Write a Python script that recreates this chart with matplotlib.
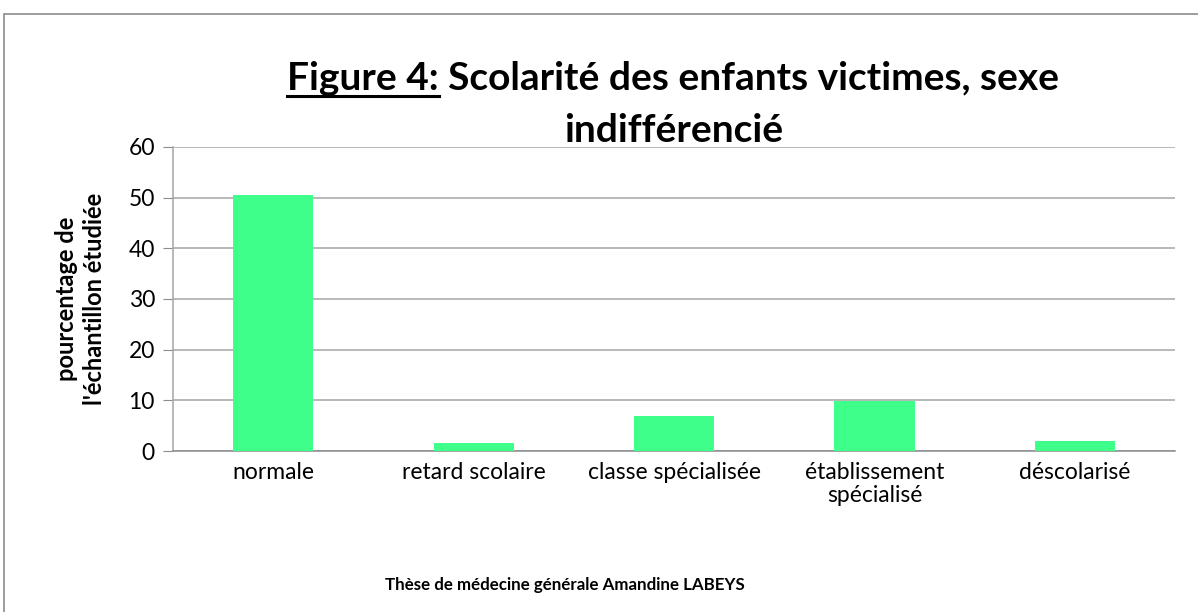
import matplotlib
matplotlib.use("Agg")
import matplotlib.pyplot as plt
from matplotlib.lines import Line2D
from matplotlib.patches import Rectangle

# Data
categories = ["normale", "retard scolaire", "classe spécialisée",
              "établissement\nspécialisé", "déscolarisé"]
percentages = [50.5, 1.5, 7.0, 9.9, 2.0]
y_ticks = [0, 10, 20, 30, 40, 50, 60]

plt.rcParams['font.family'] = ['Lato', 'DejaVu Sans']

fig = plt.figure(figsize=(11.98, 6.12), dpi=100)
ax = fig.add_axes([0.1444, 0.263, 0.8366, 0.497])

# outer chart frame (Excel style)
fig.patches.append(Rectangle((4 / 1198, -0.05), 1.1, 1 - 14 / 612 + 0.05,
                             transform=fig.transFigure, fill=False,
                             edgecolor='#8c8c8c', linewidth=1.2))

x = range(len(categories))
ax.bar(x, percentages, width=0.4, color='#3dff8a', zorder=3)

ax.set_xlim(-0.5, len(categories) - 0.5)
ax.set_ylim(0, 60)
ax.set_yticks(y_ticks)
ax.set_xticks(list(x))
ax.set_xticklabels(categories, fontsize=16.5, linespacing=1.1)
ax.tick_params(axis='y', labelsize=16.5, length=7, color='#8c8c8c', pad=6)
ax.tick_params(axis='x', length=0, pad=8)
ax.grid(axis='y', color='#a6a6a6', linewidth=1.1, zorder=0)
for side in ['top', 'right']:
    ax.spines[side].set_visible(False)
ax.spines['left'].set_color('#a6a6a6')
ax.spines['bottom'].set_color('#8c8c8c')
ax.spines['left'].set_linewidth(1.1)
ax.spines['bottom'].set_linewidth(1.1)

ax.set_ylabel("pourcentage de\nl'échantillon étudiée", fontsize=17,
              fontweight='bold', linespacing=1.3, labelpad=16)

# title with underlined "Figure 4:"
line1 = "Figure 4: Scolarité des enfants victimes, sexe"
t1 = fig.text(0.562, 1 - 90 / 612, line1, ha='center', va='baseline',
              fontsize=28, fontweight='bold')
fig.text(0.562, 1 - 142 / 612, "indifférencié", ha='center', va='baseline',
         fontsize=28, fontweight='bold')
fig.canvas.draw()
renderer = fig.canvas.get_renderer()
bb = t1.get_window_extent(renderer)
x0 = bb.x0 / fig.bbox.width
probe = fig.text(x0, 1 - 90 / 612, "Figure 4:", ha='left', va='baseline',
                 fontsize=28, fontweight='bold', alpha=0)
pb = probe.get_window_extent(renderer)
x1 = pb.x1 / fig.bbox.width
uy = 1 - 96 / 612
fig.lines.append(Line2D([x0, x1], [uy, uy], transform=fig.transFigure,
                        color='black', linewidth=2.2))

fig.text(0.4716, 1 - 590 / 612, "Thèse de médecine générale Amandine LABEYS",
         ha='center', va='baseline', fontsize=12.2, fontweight='bold')

fig.savefig("out.png", dpi=100)
